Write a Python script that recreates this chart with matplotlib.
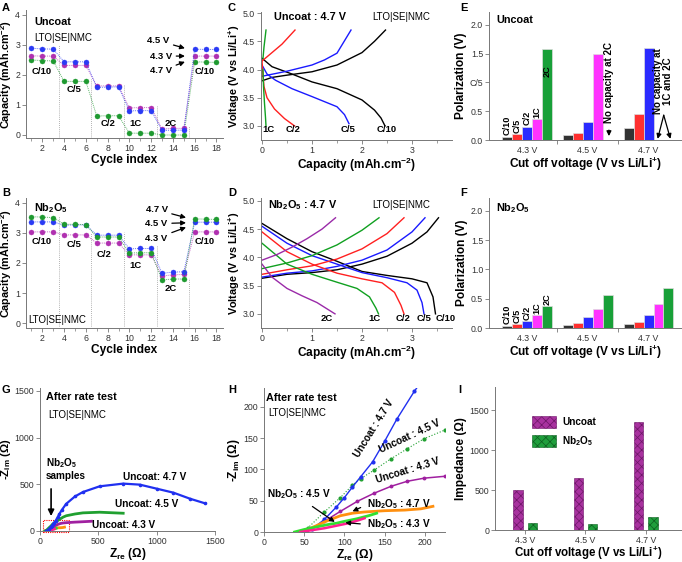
import matplotlib
matplotlib.use('Agg')
import matplotlib.pyplot as plt
from matplotlib.ticker import MultipleLocator, FixedLocator, NullFormatter
from matplotlib.patches import Rectangle

plt.rcParams['font.family'] = ['Liberation Sans', 'DejaVu Sans']
plt.rcParams['mathtext.fontset'] = 'custom'
plt.rcParams['mathtext.rm'] = 'Liberation Sans'
plt.rcParams['mathtext.bf'] = 'Liberation Sans:bold'
plt.rcParams['mathtext.it'] = 'Liberation Sans:italic'
plt.rcParams['mathtext.default'] = 'regular'

# ---------------- data ----------------
cycles = list(range(1, 19))
capA_43 = [2.63, 2.62, 2.62, 2.31, 2.31, 2.31, 1.63, 1.63, 1.63, 0.90, 0.91, 0.91, 0.20, 0.22, 0.22, 2.62, 2.62, 2.62]
capA_45 = [2.88, 2.86, 2.85, 2.43, 2.43, 2.43, 1.58, 1.59, 1.60, 0.80, 0.81, 0.81, 0.15, 0.16, 0.16, 2.85, 2.84, 2.84]
capA_47 = [2.49, 2.47, 2.46, 1.78, 1.78, 1.78, 0.63, 0.64, 0.64, 0.06, 0.06, 0.06, 0.00, 0.00, 0.00, 2.43, 2.42, 2.41]
capB_43 = [3.03, 3.03, 3.03, 2.93, 2.93, 2.93, 2.66, 2.66, 2.66, 2.27, 2.27, 2.27, 1.57, 1.61, 1.62, 3.03, 3.03, 3.03]
capB_45 = [3.36, 3.36, 3.36, 3.25, 3.26, 3.26, 2.92, 2.92, 2.92, 2.47, 2.48, 2.48, 1.66, 1.70, 1.71, 3.35, 3.35, 3.35]
capB_47 = [3.53, 3.52, 3.50, 3.28, 3.28, 3.27, 2.86, 2.86, 2.86, 2.33, 2.34, 2.34, 1.44, 1.47, 1.47, 3.46, 3.45, 3.44]
rate_steps = [3.5, 6.5, 9.5, 12.5, 15.5]
stepA_heights = [3.0, 1.85, 1.7, 0.95, 0.3]
stepB_heights = [3.54, 3.0, 3.04, 2.55, 1.5]
rate_names = ['C/10', 'C/5', 'C/2', '1C', '2C']

# Panel C: Uncoat 4.7 V (capacity, voltage)
C_c10_chg_q = [0.0, 0.2, 0.5, 1.0, 1.5, 2.0, 2.25, 2.47]
C_c10_chg_v = [3.80, 3.86, 3.90, 3.96, 4.08, 4.30, 4.50, 4.70]
C_c10_dis_q = [0.0, 0.2, 0.6, 1.0, 1.5, 2.0, 2.25, 2.38, 2.46]
C_c10_dis_v = [4.20, 4.05, 3.92, 3.78, 3.66, 3.46, 3.28, 3.14, 3.00]
C_c5_chg_q = [0.0, 0.5, 1.0, 1.25, 1.5, 1.78]
C_c5_chg_v = [3.88, 3.97, 4.08, 4.17, 4.29, 4.70]
C_c5_dis_q = [0.0, 0.1, 0.27, 0.6, 1.0, 1.5, 1.65, 1.74]
C_c5_dis_v = [4.08, 3.92, 3.81, 3.66, 3.52, 3.34, 3.20, 3.04]
C_c2_chg_q = [0.0, 0.2, 0.4, 0.66]
C_c2_chg_v = [4.15, 4.30, 4.45, 4.70]
C_c2_dis_q = [0.0, 0.02, 0.04, 0.10, 0.25, 0.45, 0.65]
C_c2_dis_v = [4.15, 3.90, 3.70, 3.50, 3.30, 3.13, 3.00]
C_1c_chg_q = [0.02, 0.04, 0.06, 0.08]
C_1c_chg_v = [4.20, 4.40, 4.55, 4.70]
C_1c_dis_q = [0.02, 0.03, 0.05, 0.07, 0.08]
C_1c_dis_v = [4.00, 3.70, 3.40, 3.15, 3.00]

# Panel D: Nb2O5 4.7 V
D_c10_chg_q = [0.0, 0.5, 1.0, 1.5, 2.0, 2.5, 3.0, 3.3, 3.53]
D_c10_chg_v = [3.63, 3.70, 3.73, 3.78, 3.88, 4.02, 4.25, 4.45, 4.70]
D_c10_dis_q = [0.0, 0.5, 1.0, 1.5, 2.0, 2.5, 3.0, 3.3, 3.42, 3.47]
D_c10_dis_v = [4.60, 4.33, 4.10, 3.93, 3.75, 3.68, 3.62, 3.55, 3.30, 3.00]
D_c5_chg_q = [0.0, 0.5, 1.0, 1.5, 2.0, 2.5, 3.0, 3.26]
D_c5_chg_v = [3.65, 3.72, 3.76, 3.84, 3.95, 4.13, 4.45, 4.70]
D_c5_dis_q = [0.0, 0.5, 1.0, 1.5, 2.0, 2.5, 2.9, 3.1, 3.2, 3.24]
D_c5_dis_v = [4.55, 4.25, 4.03, 3.88, 3.73, 3.64, 3.55, 3.42, 3.20, 3.00]
D_c2_chg_q = [0.0, 0.5, 1.0, 1.5, 2.0, 2.5, 2.84]
D_c2_chg_v = [3.70, 3.78, 3.85, 3.97, 4.15, 4.42, 4.70]
D_c2_dis_q = [0.0, 0.5, 1.0, 1.5, 2.0, 2.4, 2.65, 2.78, 2.84]
D_c2_dis_v = [4.45, 4.10, 3.88, 3.72, 3.62, 3.55, 3.38, 3.15, 3.00]
D_1c_chg_q = [0.0, 0.5, 1.0, 1.5, 2.0, 2.34]
D_1c_chg_v = [3.80, 3.90, 4.03, 4.22, 4.48, 4.70]
D_1c_dis_q = [0.0, 0.5, 1.0, 1.5, 1.9, 2.15, 2.28, 2.33]
D_1c_dis_v = [4.25, 3.88, 3.70, 3.56, 3.45, 3.30, 3.10, 3.00]
D_2c_chg_q = [0.0, 0.3, 0.6, 0.9, 1.2, 1.47]
D_2c_chg_v = [3.95, 4.05, 4.18, 4.33, 4.50, 4.70]
D_2c_dis_q = [0.0, 0.2, 0.5, 0.8, 1.1, 1.46]
D_2c_dis_v = [3.88, 3.65, 3.45, 3.32, 3.20, 3.00]

# Panels E/F: polarization (V); None = no capacity
cutoffs = ['4.3 V', '4.5 V', '4.7 V']
polE = {'C/10': [0.06, 0.08, 0.21], 'C/5': [0.10, 0.13, 0.45], 'C/2': [0.23, 0.31, 1.60],
        '1C': [0.36, 1.49, None], '2C': [1.58, None, None]}
polF = {'C/10': [0.04, 0.05, 0.06], 'C/5': [0.065, 0.08, 0.10], 'C/2': [0.12, 0.18, 0.23],
        '1C': [0.22, 0.32, 0.41], '2C': [0.38, 0.56, 0.69]}
polE_yticklabels = ['0.0', '0.5', 'C/5', '1.5', '2.0']

# Panel G/H: Nyquist (Zre, -Zim) in ohm
U47_re = [52, 60, 75, 90, 100, 110, 120, 135, 150, 165, 187, 224, 300, 368, 511, 713, 856, 1000, 1144, 1287, 1417]
U47_im = [0, 5, 20, 40, 55, 72, 88, 112, 145, 180, 225, 290, 370, 417, 478, 507, 496, 453, 410, 345, 295]
U45_re = [48, 55, 75, 95, 110, 120, 137, 158, 178, 199, 225, 300, 368, 511, 713]
U45_im = [0, 7, 32, 55, 75, 85, 99, 117, 133, 149, 163, 182, 194, 201, 190]
U43_re = [52, 75, 95, 116, 137, 158, 178, 199, 225, 300, 350, 440]
U43_im = [0, 17, 33, 49, 62, 73, 81, 86, 89, 95, 98, 104]
N47_re = [42, 54, 65, 75, 85, 95, 110, 125, 150, 175, 195, 210]
N47_im = [0, 4, 10, 16, 21, 26, 30, 32, 34, 35, 37, 41]
N45_re = [38, 50, 65, 80, 90, 100, 115, 130, 140]
N45_im = [0, 4, 8, 12, 14, 17, 21, 26, 30]
N43_re = [45, 60, 75, 90, 105, 118, 125]
N43_im = [0, 3, 6, 10, 14, 19, 22]

# Panel I: impedance (ohm)
imp_uncoat = [500, 650, 1350]
imp_nb = [85, 80, 160]

# ---------------- figure ----------------
W, H = 682, 562
fig = plt.figure(figsize=(W / 100, H / 100), dpi=100)

def ax_at(l, t, r, b):
    return fig.add_axes([l / W, 1 - b / H, (r - l) / W, (b - t) / H])

TICK = 6.3
LAB = 8.6

def style(ax):
    for s in ['top', 'right']:
        ax.spines[s].set_visible(False)
    for s in ['left', 'bottom']:
        ax.spines[s].set_color('#777777')
        ax.spines[s].set_linewidth(0.7)
    ax.tick_params(axis='both', which='major', labelsize=TICK, colors='#777777',
                   labelcolor='#333333', length=3, width=0.6, direction='out', pad=1.2)
    ax.tick_params(axis='both', which='minor', colors='#777777', length=2, width=0.5, direction='out')

def bold_txt(ax, x, y, s, size=7.5, **kw):
    ax.text(x, y, s, fontsize=size, fontweight='bold', **kw)

MAG = '#b030b0'
BLU = '#2a3af5'
GRN = '#1e9a30'
ARW = dict(arrowstyle='-|>', color='black', lw=0.9, mutation_scale=7, shrinkA=1, shrinkB=0)

# ---- A and B ----
def rate_panel(ax, d43, d45, d47, steps_h, order):
    style(ax)
    for x, h in zip(rate_steps, steps_h):
        ax.plot([x, x], [-0.1, h], color='#999999', lw=0.6, ls=(0, (1, 1.5)))
    series = {'43': (d43, MAG), '45': (d45, BLU), '47': (d47, GRN)}
    for k in order:
        d, c = series[k]
        ax.plot(cycles, d, color=c, lw=0.7, ls=(0, (1, 1)), alpha=0.7)
        ax.plot(cycles, d, 'o', color=c, ms=3.6, mec=c, mew=0.3)
    ax.set_xlim(0.5, 18.6)
    ax.xaxis.set_minor_locator(MultipleLocator(1))
    ax.set_xticks(range(2, 19, 2))
    ax.yaxis.set_major_locator(MultipleLocator(1))
    ax.set_xlabel('Cycle index', fontsize=LAB, fontweight='bold', labelpad=0.5)
    ax.set_ylabel(r'Capacity (mAh.cm$^{\mathbf{-2}}$)', fontsize=7.8, fontweight='bold', labelpad=0.5)

axA = ax_at(26, 10, 223, 138)
rate_panel(axA, capA_43, capA_45, capA_47, stepA_heights, ['47', '43', '45'])
axA.set_ylim(-0.1, 4.15)
bold_txt(axA, 1.3, 3.65, 'Uncoat', 7.8)
axA.text(1.3, 3.12, 'LTO|SE|NMC', fontsize=7)
for s, x, y in [('C/10', 1.95, 2.1), ('C/5', 4.9, 1.5), ('C/2', 8.0, 0.38), ('1C', 10.6, 0.38),
                ('2C', 13.8, 0.39), ('C/10', 16.9, 2.1)]:
    bold_txt(axA, x, y, s, 6.8, ha='center', va='center')
for s, (tx, ty), (ax_, ay_) in [('4.5 V', (12.65, 3.13), (15.1, 2.88)),
                                  ('4.3 V', (12.9, 2.62), (15.1, 2.62)),
                                  ('4.7 V', (12.9, 2.13), (15.1, 2.43))]:
    axA.annotate(s, xy=(ax_, ay_), xytext=(tx, ty), fontsize=6.8, fontweight='bold',
                 ha='center', va='center', arrowprops=ARW)

axB = ax_at(26, 198, 223, 328)
rate_panel(axB, capB_43, capB_45, capB_47, stepB_heights, ['43', '45', '47'])
axB.set_ylim(-0.15, 4.15)
bold_txt(axB, 1.2, 3.7, r'Nb$_\mathbf{2}$O$_\mathbf{5}$', 7.8)
axB.text(0.7, 0.02, 'LTO|SE|NMC', fontsize=7)
for s, x, y in [('C/10', 1.95, 2.72), ('C/5', 4.9, 2.6), ('C/2', 7.7, 2.27), ('1C', 10.6, 1.91),
                ('2C', 13.8, 1.17), ('C/10', 16.9, 2.72)]:
    bold_txt(axB, x, y, s, 6.8, ha='center', va='center')
for s, (tx, ty), (ax_, ay_) in [('4.7 V', (12.5, 3.76), (15.2, 3.5)),
                                  ('4.5 V', (12.5, 3.3), (15.2, 3.33)),
                                  ('4.3 V', (12.5, 2.82), (15.2, 3.18))]:
    axB.annotate(s, xy=(ax_, ay_), xytext=(tx, ty), fontsize=6.8, fontweight='bold',
                 ha='center', va='center', arrowprops=ARW)

# ---- C and D ----
def volt_panel(ax):
    style(ax)
    ax.set_xlim(-0.02, 3.8)
    ax.xaxis.set_major_locator(MultipleLocator(1))
    ax.xaxis.set_minor_locator(MultipleLocator(0.5))
    ax.yaxis.set_major_locator(MultipleLocator(0.5))
    ax.yaxis.set_major_formatter(matplotlib.ticker.FormatStrFormatter('%.1f'))
    ax.set_xlabel(r'Capacity (mAh.cm$^{\mathbf{-2}}$)', fontsize=LAB, fontweight='bold', labelpad=0.5)
    ax.set_ylabel(r'Voltage (V vs Li/Li$^{\mathbf{+}}$)', fontsize=7.8, fontweight='bold', labelpad=1)

axC = ax_at(261, 12, 452, 140)
volt_panel(axC)
axC.set_ylim(2.75, 5.02)
for q, v, c in [(C_c10_chg_q, C_c10_chg_v, 'black'), (C_c10_dis_q, C_c10_dis_v, 'black'),
                (C_c5_chg_q, C_c5_chg_v, '#1a1aff'), (C_c5_dis_q, C_c5_dis_v, '#1a1aff'),
                (C_c2_chg_q, C_c2_chg_v, '#ff2020'), (C_c2_dis_q, C_c2_dis_v, '#ff2020'),
                (C_1c_chg_q, C_1c_chg_v, '#10a020'), (C_1c_dis_q, C_1c_dis_v, '#10a020')]:
    axC.plot(q, v, color=c, lw=1.0)
bold_txt(axC, 0.25, 4.87, 'Uncoat : 4.7 V', 7.8)
axC.text(2.2, 4.87, 'LTO|SE|NMC', fontsize=7)
for s, x in [('1C', 0.13), ('C/2', 0.62), ('C/5', 1.72), ('C/10', 2.5)]:
    bold_txt(axC, x, 2.93, s, 6.8, ha='center', va='center')

axD = ax_at(261, 198, 452, 328)
volt_panel(axD)
axD.set_ylim(2.75, 5.05)
for q, v, c in [(D_c10_chg_q, D_c10_chg_v, 'black'), (D_c10_dis_q, D_c10_dis_v, 'black'),
                (D_c5_chg_q, D_c5_chg_v, '#1a1aff'), (D_c5_dis_q, D_c5_dis_v, '#1a1aff'),
                (D_c2_chg_q, D_c2_chg_v, '#ff2020'), (D_c2_dis_q, D_c2_dis_v, '#ff2020'),
                (D_1c_chg_q, D_1c_chg_v, '#10a020'), (D_1c_dis_q, D_1c_dis_v, '#10a020'),
                (D_2c_chg_q, D_2c_chg_v, '#9a2aa8'), (D_2c_dis_q, D_2c_dis_v, '#9a2aa8')]:
    axD.plot(q, v, color=c, lw=1.0)
bold_txt(axD, 0.12, 4.87, r'Nb$_\mathbf{2}$O$_\mathbf{5}$ : 4.7 V', 7.8)
axD.text(2.2, 4.87, 'LTO|SE|NMC', fontsize=7)
for s, x in [('2C', 1.3), ('1C', 2.25), ('C/2', 2.82), ('C/5', 3.25), ('C/10', 3.68)]:
    bold_txt(axD, x, 2.92, s, 6.8, ha='center', va='center')

# ---- E and F ----
rate_colors = {'C/10': '#333333', 'C/5': '#ff3030', 'C/2': '#2a2aff', '1C': '#ff33ff', '2C': '#18a038'}
BW = 0.164

def pol_panel(ax, pol):
    style(ax)
    for i, r in enumerate(rate_names):
        off = (i - 2) * BW
        for g, v in enumerate(pol[r]):
            if v is None:
                continue
            ax.bar(g + off, v, width=BW, color=rate_colors[r], edgecolor='#dddddd', lw=0.5)
    ax.set_xlim(-0.62, 2.55)
    ax.set_ylim(0, 2.22)
    ax.xaxis.set_major_locator(FixedLocator([0.5, 1.5]))
    ax.xaxis.set_major_formatter(NullFormatter())
    ax.xaxis.set_minor_locator(FixedLocator([0, 1, 2]))
    ax.set_xticklabels(cutoffs, minor=True)
    ax.tick_params(axis='x', which='minor', length=0, labelsize=TICK, labelcolor='#333333', pad=4)
    ax.yaxis.set_major_locator(MultipleLocator(0.5))
    ax.yaxis.set_major_formatter(matplotlib.ticker.FormatStrFormatter('%.1f'))
    ax.set_xlabel(r'Cut off voltage (V vs Li/Li$^{\mathbf{+}}$)', fontsize=LAB, fontweight='bold', labelpad=0.5)
    ax.set_ylabel('Polarization (V)', fontsize=LAB, fontweight='bold', labelpad=2)

axE = ax_at(489, 12, 682, 140)
pol_panel(axE, polE)
axE.set_yticks([0, 0.5, 1.0, 1.5, 2.0])
axE.set_yticklabels(polE_yticklabels)
bold_txt(axE, -0.5, 2.03, 'Uncoat', 7.8)
for i, r in enumerate(rate_names[:4]):
    v = polE[r][0]
    bold_txt(axE, (i - 2) * BW, v + 0.03, r, 6.6, rotation=90, ha='center', va='bottom')
bold_txt(axE, 2 * BW, 1.2, '2C', 6.6, rotation=90, ha='center', va='center')
bold_txt(axE, 1.35, 1.0, 'No capacity at 2C', 7.0, rotation=90, ha='center', va='center')
axE.annotate('', xy=(1.35, 0.02), xytext=(1.35, 0.22),
             arrowprops=dict(arrowstyle='-|>', color='black', lw=0.9, mutation_scale=7))
bold_txt(axE, 2.23, 1.02, 'No capacity at\n1C and 2C', 7.0, rotation=90, ha='center', va='center',
         linespacing=1.0)
for xt in [2.15, 2.36]:
    axE.annotate('', xy=(xt, 0.02), xytext=(2.25, 0.43),
                 arrowprops=dict(arrowstyle='-|>', color='black', lw=0.9, mutation_scale=7,
                                 shrinkA=0, shrinkB=0))

axF = ax_at(489, 198, 682, 328)
pol_panel(axF, polF)
bold_txt(axF, -0.5, 2.0, r'Nb$_\mathbf{2}$O$_\mathbf{5}$', 7.8)
for i, r in enumerate(rate_names):
    v = polF[r][0]
    bold_txt(axF, (i - 2) * BW, v + 0.02, r, 6.6, rotation=90, ha='center', va='bottom')

# ---- G ----
axG = ax_at(40, 388, 215, 531)
style(axG)
axG.plot(N47_re, N47_im, color='#ff9010', lw=2.0)
axG.plot(N45_re, N45_im, color='#30e030', lw=2.0)
axG.plot(N43_re, N43_im, color='#ff2090', lw=2.0)
axG.plot(U43_re, U43_im, color='#a020a0', lw=2.0)
axG.plot(U45_re, U45_im, color='#20a030', lw=2.0)
axG.plot(U47_re, U47_im, color='#2030f0', lw=1.6, marker='o', ms=1.6)
axG.set_xlim(0, 1500)
axG.set_ylim(0, 1530)
axG.xaxis.set_major_locator(MultipleLocator(500))
axG.yaxis.set_major_locator(MultipleLocator(500))
axG.set_xlabel(r'Z$_{\mathbf{re}}$ (Ω)', fontsize=LAB, fontweight='bold', labelpad=0)
axG.set_ylabel(r'-Z$_{\mathbf{im}}$ (Ω)', fontsize=8.2, fontweight='bold')
axG.yaxis.set_label_coords(-0.155, 0.5)
bold_txt(axG, 50, 1400, 'After rate test', 7.8)
axG.text(70, 1210, 'LTO|SE|NMC', fontsize=7)
bold_txt(axG, 50, 560, r'Nb$_\mathbf{2}$O$_\mathbf{5}$' + '\nsamples', 7.2, linespacing=1.1)
axG.annotate('', xy=(95, 130), xytext=(95, 480),
             arrowprops=dict(arrowstyle='-|>', color='black', lw=1.2, mutation_scale=9))
axG.add_patch(Rectangle((25, -10), 225, 130, fill=False, ec='red', lw=0.8, ls=(0, (1, 1)),
                        clip_on=False))
bold_txt(axG, 985, 579, 'Uncoat: 4.7 V', 7.2, ha='center', va='center')
bold_txt(axG, 914, 284, 'Uncoat: 4.5 V', 7.2, ha='center', va='center')
bold_txt(axG, 713, 68, 'Uncoat: 4.3 V', 7.2, ha='center', va='center')

# ---- H ----
axH = ax_at(264, 388, 445, 532)
style(axH)
axH.plot(U43_re, U43_im, color='#a020a0', lw=1.1, marker='o', ms=1.8)
axH.plot(U45_re, U45_im, color='#20a030', lw=0.8, marker='o', ms=2.0, ls=':')
axH.plot(U47_re, U47_im, color='#2030f0', lw=1.0, marker='o', ms=2.0)
axH.plot(N47_re, N47_im, color='#ff9010', lw=2.0)
axH.plot(N45_re, N45_im, color='#30e030', lw=2.0)
axH.plot(N43_re, N43_im, color='#ff2090', lw=1.8)
axH.set_xlim(0, 225)
axH.set_ylim(0, 230)
axH.xaxis.set_major_locator(MultipleLocator(50))
axH.yaxis.set_major_locator(MultipleLocator(50))
axH.set_xlabel(r'Z$_{\mathbf{re}}$ (Ω)', fontsize=LAB, fontweight='bold', labelpad=0)
axH.set_ylabel(r'-Z$_{\mathbf{im}}$ (Ω)', fontsize=LAB, fontweight='bold', labelpad=1)
bold_txt(axH, 3, 210, 'After rate test', 7.8)
axH.text(5, 185, 'LTO|SE|NMC', fontsize=7)
bold_txt(axH, 137, 166, 'Uncoat : 4.7 V', 7.2, rotation=58, ha='center', va='center',
         rotation_mode='anchor')
bold_txt(axH, 181, 153, 'Uncoat : 4.5 V', 7.2, rotation=25, ha='center', va='center',
         rotation_mode='anchor')
bold_txt(axH, 178, 99, 'Uncoat : 4.3 V', 7.2, rotation=17, ha='center', va='center',
         rotation_mode='anchor')
for s, (tx, ty), (px, py) in [(r'Nb$_\mathbf{2}$O$_\mathbf{5}$ : 4.5 V', (43, 60), (88, 16)),
                              (r'Nb$_\mathbf{2}$O$_\mathbf{5}$ : 4.7 V', (168, 44), (110, 33)),
                              (r'Nb$_\mathbf{2}$O$_\mathbf{5}$ : 4.3 V', (168, 12), (101, 15))]:
    axH.annotate(s, xy=(px, py), xytext=(tx, ty), fontsize=7.2, fontweight='bold',
                 ha='center', va='center',
                 arrowprops=dict(arrowstyle='-|>', color='black', lw=0.9, mutation_scale=7,
                                 shrinkA=3, shrinkB=0, relpos=(0.6, 0.0) if tx < 100 else (0.0, 0.5)))

# ---- I ----
axI = ax_at(495, 387, 682, 530)
style(axI)
plt.rcParams['hatch.linewidth'] = 0.5
gx = [0, 1, 2]
axI.bar([g - 0.12 for g in gx], imp_uncoat, width=0.155, color='#a8329f', edgecolor='#6e1668',
        hatch='xxxx', lw=0.4, label='Uncoat')
axI.bar([g + 0.12 for g in gx], imp_nb, width=0.155, color='#1f9e3c', edgecolor='#0e5e20',
        hatch='xxxx', lw=0.4, label=r'Nb$_\mathbf{2}$O$_\mathbf{5}$')
axI.set_xlim(-0.5, 2.6)
axI.set_ylim(0, 1790)
axI.set_xticks(gx)
axI.set_xticklabels(cutoffs)
axI.tick_params(axis='x', length=3)
axI.yaxis.set_major_locator(MultipleLocator(500))
axI.set_xlabel(r'Cut off voltage (V vs Li/Li$^{\mathbf{+}}$)', fontsize=8.3, fontweight='bold', labelpad=0)
axI.set_ylabel('Impedance (Ω)', fontsize=LAB, fontweight='bold', labelpad=2)
axI.legend(loc='upper left', bbox_to_anchor=(0.15, 0.86), frameon=False,
           prop={'size': 7.2, 'weight': 'bold'}, handlelength=2.4, handleheight=1.4,
           labelspacing=0.7, handletextpad=0.6)

# panel letters
for s, x, y in [('A', 2, 8), ('B', 2, 193), ('C', 228, 8), ('D', 228, 193), ('E', 460, 8),
                ('F', 460, 193), ('G', 2, 390), ('H', 228, 390), ('I', 458, 390)]:
    fig.text(x / W, 1 - y / H, s, fontsize=8, fontweight='bold', va='center')

fig.savefig('out.png', dpi=100)
